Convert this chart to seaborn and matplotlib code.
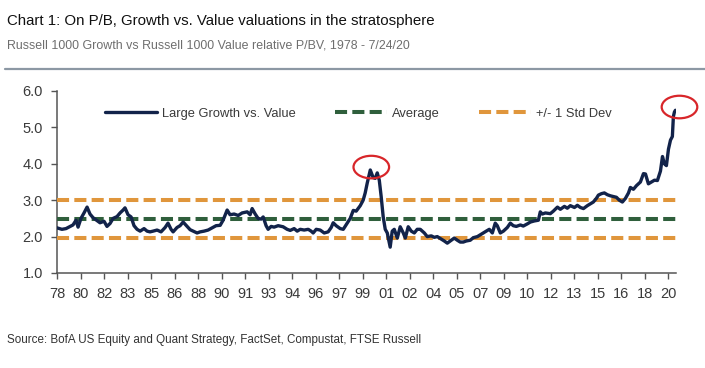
import matplotlib
matplotlib.use("Agg")
import matplotlib.pyplot as plt
import matplotlib.font_manager as fm
from matplotlib.patches import Ellipse
import seaborn as sns
import pandas as pd

# ---------------- data ----------------
years = [1978.00, 1978.34, 1978.62, 1978.90, 1979.10, 1979.31, 1979.45, 1979.65, 1979.86, 1980.07,
         1980.27, 1980.48, 1980.69, 1980.96, 1981.24, 1981.44, 1981.65, 1981.86, 1982.13, 1982.34,
         1982.55, 1982.68, 1982.89, 1983.10, 1983.30, 1983.51, 1983.72, 1983.99, 1984.20, 1984.40,
         1984.61, 1984.89, 1985.16, 1985.44, 1985.64, 1985.85, 1985.99, 1986.26, 1986.47, 1986.68,
         1986.95, 1987.16, 1987.37, 1987.64, 1987.85, 1988.12, 1988.40, 1988.67, 1988.95, 1989.23,
         1989.43, 1989.71, 1989.91, 1990.19, 1990.47, 1990.74, 1991.09, 1991.29, 1991.43, 1991.64,
         1991.84, 1992.05, 1992.19, 1992.39, 1992.53, 1992.74, 1992.94, 1993.22, 1993.56, 1993.84,
         1994.05, 1994.32, 1994.53, 1994.74, 1995.01, 1995.29, 1995.49, 1995.63, 1995.84, 1996.11,
         1996.39, 1996.66, 1996.87, 1997.01, 1997.21, 1997.49, 1997.70, 1997.97, 1998.18, 1998.39,
         1998.59, 1998.87, 1999.07, 1999.21, 1999.35, 1999.56, 1999.76, 1999.90, 2000.04, 2000.18,
         2000.31, 2000.45, 2000.59, 2000.73, 2000.93, 2001.07, 2001.21, 2001.42, 2001.62, 2001.83,
         2001.97, 2002.17, 2002.38, 2002.59, 2002.79, 2003.00, 2003.28, 2003.48, 2003.76, 2003.96,
         2004.17, 2004.45, 2004.65, 2004.86, 2005.13, 2005.34, 2005.55, 2005.75, 2005.96, 2006.17,
         2006.44, 2006.65, 2006.93, 2007.13, 2007.34, 2007.54, 2007.75, 2007.96, 2008.16, 2008.30,
         2008.51, 2008.72, 2008.99, 2009.20, 2009.40, 2009.61, 2009.89, 2010.09, 2010.37, 2010.58,
         2010.85, 2011.13, 2011.26, 2011.40, 2011.61, 2011.95, 2012.16, 2012.44, 2012.64, 2012.92,
         2013.12, 2013.33, 2013.61, 2013.81, 2014.02, 2014.23, 2014.50, 2014.71, 2014.91, 2015.12,
         2015.26, 2015.47, 2015.67, 2015.88, 2016.09, 2016.29, 2016.50, 2016.70, 2016.91, 2017.12,
         2017.33, 2017.46, 2017.67, 2017.88, 2018.15, 2018.36, 2018.50, 2018.70, 2018.91, 2019.12,
         2019.32, 2019.53, 2019.67, 2019.80, 2019.94, 2020.08, 2020.22, 2020.35, 2020.42, 2020.49,
         2020.56]
growth_vs_value = [2.24, 2.20, 2.22, 2.28, 2.32, 2.45, 2.26, 2.50, 2.65, 2.81,
                   2.62, 2.52, 2.46, 2.38, 2.42, 2.28, 2.36, 2.50, 2.55, 2.65,
                   2.73, 2.79, 2.60, 2.54, 2.30, 2.20, 2.15, 2.22, 2.15, 2.13,
                   2.15, 2.18, 2.13, 2.25, 2.37, 2.20, 2.13, 2.25, 2.30, 2.40,
                   2.28, 2.19, 2.15, 2.10, 2.13, 2.15, 2.18, 2.24, 2.30, 2.31,
                   2.45, 2.73, 2.60, 2.62, 2.58, 2.65, 2.68, 2.60, 2.77, 2.62,
                   2.50, 2.48, 2.54, 2.30, 2.20, 2.28, 2.26, 2.30, 2.27, 2.20,
                   2.17, 2.22, 2.15, 2.20, 2.18, 2.20, 2.15, 2.10, 2.20, 2.18,
                   2.10, 2.13, 2.25, 2.38, 2.30, 2.22, 2.20, 2.37, 2.50, 2.72,
                   2.70, 2.85, 3.00, 3.20, 3.47, 3.83, 3.62, 3.60, 3.75, 3.55,
                   3.10, 2.54, 2.20, 2.10, 1.71, 2.15, 2.20, 1.96, 2.27, 2.10,
                   1.96, 2.27, 2.15, 2.10, 2.20, 2.20, 2.10, 2.00, 2.02, 1.98,
                   2.00, 1.93, 1.88, 1.82, 1.90, 1.96, 1.90, 1.85, 1.85, 1.88,
                   1.90, 1.97, 2.00, 2.05, 2.10, 2.15, 2.20, 2.10, 2.37, 2.30,
                   2.10, 2.15, 2.25, 2.37, 2.30, 2.28, 2.32, 2.29, 2.35, 2.40,
                   2.43, 2.45, 2.68, 2.62, 2.65, 2.63, 2.70, 2.81, 2.75, 2.83,
                   2.78, 2.85, 2.80, 2.86, 2.80, 2.77, 2.85, 2.90, 2.95, 3.05,
                   3.14, 3.18, 3.20, 3.15, 3.12, 3.10, 3.08, 3.00, 2.95, 3.05,
                   3.20, 3.35, 3.30, 3.40, 3.50, 3.73, 3.72, 3.45, 3.50, 3.55,
                   3.54, 3.80, 4.20, 4.00, 3.95, 4.40, 4.65, 4.75, 5.30, 5.42,
                   5.47]
average = 2.48
std_upper = 3.00
std_lower = 1.96
tick_labels = ["78", "80", "82", "83", "85", "86", "88", "90", "91", "93", "94", "96", "97", "99",
               "01", "02", "04", "05", "07", "09", "10", "12", "13", "15", "16", "18", "20"]
tick_start = 1978.0
tick_step = 1.618
highlights = [(1999.63, 3.91), (2020.84, 5.56)]

# ---------------- fonts ----------------
sns.set_theme(style="white")
names = {f.name for f in fm.fontManager.ttflist}
narrow = None
for cand in ["Liberation Sans Narrow", "Arial Narrow", "DejaVu Sans Condensed"]:
    if cand in names:
        narrow = cand
        break
base = narrow if narrow else "Liberation Sans"
plt.rcParams["font.family"] = [base, "DejaVu Sans"]

W, H, DPI = 7.05, 3.68, 100
fig = plt.figure(figsize=(W, H), dpi=DPI)
fig.patch.set_facecolor("white")
ax = fig.add_axes([57 / 705, 1 - 273 / 368, (676 - 57) / 705, (273 - 91) / 368])
renderer = fig.canvas.get_renderer()


def fit(txt, target_px):
    w = txt.get_window_extent(renderer).width
    txt.set_fontsize(txt.get_fontsize() * target_px / w)


navy = "#12234a"
green = "#2f5f3c"
orange = "#e0963c"

df = pd.DataFrame({"year": years, "value": growth_vs_value})
sns.lineplot(data=df, x="year", y="value", ax=ax, color=navy, lw=2.4,
             label="Large Growth vs. Value", zorder=5)
dash = (3.0, 1.3)
ax.axhline(average, color=green, lw=2.9, dashes=dash, label="Average", zorder=3)
ax.axhline(std_upper, color=orange, lw=2.9, dashes=dash, label="+/- 1 Std Dev", zorder=3)
ax.axhline(std_lower, color=orange, lw=2.9, dashes=dash, zorder=3)

for (cx, cy) in highlights:
    e = Ellipse((cx, cy), width=2.45, height=0.62, fill=False, edgecolor="#d8262a",
                lw=1.6, zorder=6, clip_on=False)
    ax.add_patch(e)

ax.set_xlim(1978.0, 2020.6)
ax.set_ylim(1.0, 6.0)
ax.set_xticks([tick_start + i * tick_step for i in range(len(tick_labels))])
ax.set_xticklabels(tick_labels)
ax.set_yticks([1, 2, 3, 4, 5, 6])
ax.set_yticklabels([f"{v:.1f}" for v in [1, 2, 3, 4, 5, 6]])
ax.set_xlabel("")
ax.set_ylabel("")
for s in ["top", "right"]:
    ax.spines[s].set_visible(False)
for s in ["left", "bottom"]:
    ax.spines[s].set_color("#555555")
    ax.spines[s].set_linewidth(1.1)
ax.tick_params(axis="both", which="major", length=4, width=1.0, color="#555555",
               labelsize=10.5, labelcolor="#3a3a3a", direction="out", pad=6,
               bottom=True, left=True)
ax.grid(False)

fs_leg = 9.25
leg = ax.legend(loc="center left", bbox_to_anchor=(0.078, 0.875), ncol=3, frameon=False,
                fontsize=fs_leg, handlelength=4.05, handletextpad=0.39, columnspacing=3.05,
                borderaxespad=0, borderpad=0)
for t in leg.get_texts():
    t.set_color("#3a3a3a")

# ---------------- header / footer ----------------
title = fig.text(7 / 705, 1 - 21 / 368, "Chart 1: On P/B, Growth vs. Value valuations in the stratosphere",
                 fontsize=14, color="#111111", va="center", ha="left")
fit(title, 430)
sub = fig.text(7 / 705, 1 - 46 / 368, "Russell 1000 Growth vs Russell 1000 Value relative P/BV, 1978 - 7/24/20",
               fontsize=12, color="#6e6e6e", va="center", ha="left")
fit(sub, 400)
src = fig.text(7 / 705, 1 - 340 / 368, "Source: BofA US Equity and Quant Strategy, FactSet, Compustat, FTSE Russell",
               fontsize=11, color="#333333", va="center", ha="left")
fit(src, 410)
fig.add_artist(plt.Line2D([5 / 705, 1.0], [1 - 69 / 368, 1 - 69 / 368], color="#8c98a4", lw=1.6))

fig.savefig("out.png", dpi=DPI, facecolor="white")
